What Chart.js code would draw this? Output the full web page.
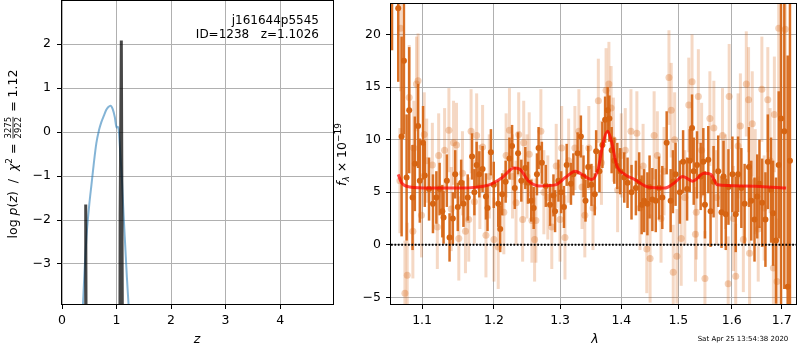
<!DOCTYPE html>
<html>
<head>
<meta charset="utf-8">
<script src="https://cdn.jsdelivr.net/npm/chart.js@4.4.0/dist/chart.umd.min.js"></script>
<style>
  html, body { margin: 0; padding: 0; background: #fff; }
  #wrap { position: relative; width: 800px; height: 350px; }
  canvas { position: absolute; left: 0; top: 0; }
</style>
</head>
<body>
<div id="wrap">
  <canvas id="pzChart" width="800" height="350"></canvas>
  <canvas id="specChart" width="800" height="350"></canvas>
</div>
<script>
// ---- left panel: log p(z) ----
const zTicks = [0, 1, 2, 3, 4];
const logpTicks = [-3, -2, -1, 0, 1, 2];
const curveZ = [0.385, 0.42, 0.46, 0.50, 0.54, 0.58, 0.63, 0.68, 0.72, 0.77, 0.81, 0.85, 0.89, 0.93, 0.97, 1.00, 1.02, 1.04, 1.07, 1.10, 1.13, 1.16, 1.19, 1.22];
const curveLogp = [-3.91, -3.0, -2.2, -1.65, -1.2, -0.75, -0.25, 0.05, 0.22, 0.38, 0.5, 0.57, 0.6, 0.52, 0.33, 0.1, 0.12, 0.05, -0.5, -1.1, -1.9, -2.6, -3.3, -3.91];
const spikeZ = [0.425, 0.435, 0.445, 1.060, 1.066, 1.088, 1.100, 1.112];
const spikeLogp = [-6, -1.65, -6, -6, -1.9, 2.08, 2.08, -6];

// ---- right panel: spectrum ----
const waveTicks = [1.1, 1.2, 1.3, 1.4, 1.5, 1.6, 1.7];
const fluxTicks = [-5, 0, 5, 10, 15, 20];

const darkWave = [
  1.0607, 1.0687, 1.0731, 1.0761, 1.0796, 1.0830, 1.0874, 1.0904, 1.0947, 1.0970,
  1.1013, 1.1036, 1.1093, 1.1146, 1.1192, 1.1236, 1.1273, 1.1290, 1.1335, 1.1372,
  1.1417, 1.1450, 1.1486, 1.1533, 1.1565, 1.1625, 1.1686, 1.1719, 1.1751, 1.1789,
  1.1836, 1.1884, 1.1907, 1.1956, 1.1997, 1.2062, 1.2091, 1.2120, 1.2171, 1.2227,
  1.2266, 1.2306, 1.2355, 1.2404, 1.2464, 1.2505, 1.2554, 1.2591, 1.2641, 1.2666,
  1.2716, 1.2777, 1.2843, 1.2896, 1.2921, 1.2974, 1.3017, 1.3061, 1.3104, 1.3172,
  1.3210, 1.3278, 1.3331, 1.3374, 1.3406, 1.3450, 1.3503, 1.3557, 1.3580, 1.3634,
  1.3683, 1.3728, 1.3770, 1.3799, 1.3837, 1.3882, 1.3932, 1.3982, 1.4050, 1.4106,
  1.4174, 1.4249, 1.4306, 1.4349, 1.4392, 1.4449, 1.4487, 1.4536, 1.4596, 1.4654,
  1.4712, 1.4790, 1.4861, 1.4902, 1.4950, 1.5028, 1.5087, 1.5160, 1.5209, 1.5251,
  1.5282, 1.5343, 1.5411, 1.5461, 1.5491, 1.5554, 1.5597, 1.5654, 1.5742, 1.5805,
  1.5843, 1.5887, 1.5938, 1.6015, 1.6079, 1.6125, 1.6189, 1.6253, 1.6339, 1.6384,
  1.6449, 1.6503, 1.6548, 1.6602, 1.6668, 1.6716, 1.6782, 1.6823, 1.6883, 1.6938,
  1.6985, 1.7053, 1.7123, 1.7170
];
const darkFlux = [
  23.5, 22.5, 10.3, 17.5, 6.4, 12.8, 4.5, 7.7, 11.3, 6.1,
  9.7, 6.6, 5.3, 3.9, 4.5, 5.3, 3.2, 2.6, 6.1, 0.7,
  2.5, 6.7, 3.6, 5.9, 3.9, 4.5, 8.4, 5.0, 7.6, 6.7,
  7.2, 4.6, 3.5, 8.8, 5.7, 3.9, 1.5, 4.8, 6.0, 8.2,
  9.4, 5.4, 8.7, 6.1, 7.3, 5.9, 4.2, 3.5, 6.7, 9.2,
  7.8, 5.6, 3.8, 4.7, 3.2, 6.1, 5.0, 3.6, 7.6, 5.8,
  6.7, 8.7, 10.3, 6.5, 4.2, 7.4, 5.7, 4.8, 8.9, 7.0,
  9.5, 11.9, 12.8, 12.0, 9.0, 8.0, 7.5, 7.0, 6.4, 5.9,
  5.0, 5.4, 6.0, 3.8, 4.2, 3.9, 5.5, 4.3, 4.2, 5.4,
  4.5, 9.7, 4.2, 6.0, 6.7, 5.0, 7.9, 5.3, 8.0, 11.1,
  7.0, 7.6, 6.5, 7.9, 3.8, 8.1, 3.2, 6.0, 7.0, 3.1,
  6.5, 2.9, 5.5, 6.7, 2.9, 6.7, 5.4, 3.9, 7.4, 4.2,
  2.4, 4.6, 5.8, 4.0, 2.4, 7.9, 5.2, 3.0, 0.4, 7.6,
  12.0, 10.8, -4.0, 8.0
];
const darkErr = [
  5, 7, 9.5, 7, 6, 6, 5, 4.5, 4, 4,
  3.5, 3, 3, 2.8, 2.5, 2.5, 2.5, 2.5, 2.5, 2.3,
  2.5, 2.3, 2.3, 2.2, 2.2, 2.2, 2.2, 2.2, 2.2, 2.2,
  2.2, 2.2, 2.2, 2.2, 2.2, 2.2, 2.2, 2.0, 2.0, 2.0,
  2.0, 2.0, 2.0, 2.0, 2.0, 2.0, 2.0, 2.0, 2.0, 2.0,
  2.0, 2.0, 2.0, 2.0, 2.0, 2.0, 2.0, 2.0, 2.0, 2.0,
  2.0, 2.0, 2.0, 2.0, 2.0, 2.0, 2.0, 2.0, 2.0, 2.0,
  2.2, 2.2, 2.2, 2.2, 2.2, 2.2, 2.2, 2.2, 2.4, 2.4,
  2.6, 2.6, 2.8, 2.8, 3.0, 3.0, 3.0, 3.0, 3.0, 3.0,
  3.0, 3.0, 3.0, 3.0, 3.0, 3.0, 3.0, 3.0, 3.0, 3.2,
  3.2, 3.2, 3.2, 3.2, 3.2, 3.2, 3.4, 3.4, 3.4, 3.4,
  3.4, 3.4, 3.6, 3.6, 3.6, 3.6, 3.8, 3.8, 3.8, 3.8,
  4.0, 4.0, 4.2, 4.2, 4.5, 4.5, 5.0, 5.0, 6.0, 7.0,
  18, 15, 22, 25
];

const lightWave = [
  1.0709, 1.0718, 1.0774, 1.0804, 1.0830, 1.0878, 1.0891, 1.0926, 1.0947, 1.0992,
  1.1029, 1.1062, 1.1138, 1.1205, 1.1223, 1.1304, 1.1363, 1.1395, 1.1427, 1.1468,
  1.1500, 1.1551, 1.1593, 1.1639, 1.1672, 1.1719, 1.1751, 1.1797, 1.1836, 1.1884,
  1.1932, 1.2000, 1.2062, 1.2144, 1.2178, 1.2227, 1.2273, 1.2325, 1.2365, 1.2424,
  1.2440, 1.2489, 1.2523, 1.2564, 1.2605, 1.2625, 1.2701, 1.2747, 1.2808, 1.2870,
  1.2939, 1.2999, 1.3025, 1.3077, 1.3135, 1.3235, 1.3299, 1.3350, 1.3395, 1.3460,
  1.3528, 1.3616, 1.3667, 1.3744, 1.3791, 1.3828, 1.3866, 1.3937, 1.3999, 1.4067,
  1.4164, 1.4266, 1.4320, 1.4374, 1.4438, 1.4496, 1.4567, 1.4624, 1.4689, 1.4742,
  1.4831, 1.4872, 1.4908, 1.4933, 1.4974, 1.5052, 1.5118, 1.5191, 1.5251, 1.5314,
  1.5330, 1.5368, 1.5429, 1.5491, 1.5584, 1.5659, 1.5710, 1.5824, 1.5881, 1.5933,
  1.5952, 1.6035, 1.6079, 1.6125, 1.6170, 1.6228, 1.6286, 1.6331, 1.6351, 1.6404,
  1.6463, 1.6523, 1.6596, 1.6642, 1.6716, 1.6762, 1.6829, 1.6849, 1.6904, 1.6938,
  1.7073
];
const lightFlux = [
  6.1, 20.6, -4.6, -2.9, 14.0, 1.3, 9.2, 15.3, 15.6, 2.8,
  10.5, 8.0, 7.6, 1.7, 8.5, 9.0, 10.9, 3.4, 9.7, 9.5,
  0.6, 6.8, 1.3, 2.4, 10.8, 4.1, 10.4, 5.5, 9.3, 0.9,
  6.5, 0.5, -0.2, 3.1, 8.5, 10.9, 6.5, 4.0, 10.5, 2.4,
  9.7, 6.5, 8.6, 2.3, 0.5, 2.3, 10.8, 5.0, 4.5, 1.7,
  7.5, 2.4, 9.2, 0.7, 8.0, 9.2, 10.8, 5.5, 2.8, 9.2,
  3.5, 13.7, 7.8, 14.7, 15.3, 13.0, 10.0, 5.2, 8.5, 9.0,
  10.8, 10.6, 3.5, 7.5, -0.4, -1.3, 10.4, 8.5, 2.5, 7.0,
  15.9, 12.8, -2.6, 10.0, -1.1, 0.6, 4.5, 13.3, 15.5, 1.0,
  3.1, 14.1, 9.0, -3.2, 12.0, 11.1, 4.5, 10.4, 6.0, -3.7,
  14.1, 2.5, -3.0, 9.4, 11.3, 0.5, 15.3, 13.8, -0.8, 11.5,
  6.0, 1.5, 14.8, 3.5, 13.8, 8.0, -2.2, 12.4, -3.5, 20.6,
  20.5
];
const lightErr = [
  5, 6, 5, 5, 5, 4.5, 4.5, 4.5, 4.5, 4,
  4, 4, 4, 4, 4, 4, 4, 4, 4, 4,
  4, 4, 4, 4, 4, 4, 4, 4, 4, 4,
  4, 4, 4, 4, 4, 4, 4, 4, 4, 4,
  4, 4, 4, 4, 4, 4, 4, 4, 4, 4,
  4, 4, 4, 4, 4, 4, 4, 4, 4, 4,
  4, 4, 4, 4, 4, 4, 4, 4, 4, 4,
  4, 4, 4, 4, 4.2, 4.2, 4.2, 4.2, 4.2, 4.2,
  4.5, 4.5, 4.5, 4.5, 4.5, 4.5, 4.5, 4.5, 4.5, 4.5,
  4.5, 4.5, 4.5, 4.5, 4.5, 4.5, 4.5, 4.5, 4.5, 4.5,
  5, 5, 5, 5, 5, 5, 5, 5, 5, 5,
  5, 5, 5, 5, 5, 5, 5.5, 5.5, 6, 8,
  10
];

const modelWave = [1.0687, 1.0731, 1.0838, 1.1100, 1.1500, 1.1930, 1.2122, 1.2293, 1.2378, 1.2517,
  1.2668, 1.2926, 1.3083, 1.3240, 1.3346, 1.3507, 1.3616, 1.3698, 1.3770, 1.3836,
  1.3919, 1.4060, 1.4230, 1.4459, 1.4753, 1.4930, 1.5080, 1.5262, 1.5478, 1.5602,
  1.5727, 1.6238, 1.7091];
const modelFlux = [6.7, 5.9, 5.5, 5.4, 5.4, 5.7, 6.4, 7.3, 7.2, 6.05,
  5.6, 5.7, 6.4, 7.0, 6.7, 6.2, 7.3, 9.8, 10.8, 9.8,
  7.6, 6.7, 6.2, 5.5, 5.4, 5.9, 6.5, 6.05, 6.8, 6.7,
  5.7, 5.6, 5.4];

const FONT = "'DejaVu Sans', sans-serif";
Chart.defaults.font.family = FONT;
Chart.defaults.font.size = 12.5;
Chart.defaults.color = '#000';

const ORANGE = 'rgb(214,100,18)';
const ORANGE_LIGHT = 'rgba(214,100,18,0.25)';

const pts = (xs, ys) => xs.map((x, i) => ({ x: x, y: ys[i] }));
const minus = v => (v < 0 ? '\u2212' + Math.abs(v) : String(v));

// force the axis boxes so the plot areas land where the reference has them
function fixBox(size) {
  return function (scale) {
    scale.paddingTop = 0; scale.paddingBottom = 0;
    scale.paddingLeft = 0; scale.paddingRight = 0;
    if (scale.isHorizontal()) scale.height = size; else scale.width = size;
  };
}
const setTicks = list => scale => { scale.ticks = list.map(v => ({ value: v })); };

const gridOpts = { color: '#b0b0b0', lineWidth: 1, tickLength: 5, tickColor: '#000', tickWidth: 1 };

const frame = {
  id: 'frame',
  afterDraw(chart) {
    const { ctx, chartArea: a } = chart;
    ctx.save();
    ctx.strokeStyle = '#000';
    ctx.lineWidth = 1;
    ctx.strokeRect(Math.round(a.left) - 0.5, Math.round(a.top) - 0.5,
      Math.round(a.right - a.left) + 1, Math.round(a.bottom - a.top) + 1);
    ctx.restore();
  }
};

// draws a rotated label made of pieces (italic, sub/superscript, fraction)
function drawRich(ctx, segs, cx, cy) {
  ctx.save();
  ctx.translate(cx, cy);
  ctx.rotate(-Math.PI / 2);
  ctx.fillStyle = '#000';
  ctx.textBaseline = 'alphabetic';
  const fontOf = s => (s.italic ? 'italic ' : '') + s.size + 'px ' + FONT;
  const widths = segs.map(s => {
    ctx.font = fontOf(s);
    if (s.num) return Math.max(ctx.measureText(s.num).width, ctx.measureText(s.den).width) + 2;
    return ctx.measureText(s.t).width;
  });
  let x = -widths.reduce((a, b) => a + b, 0) / 2;
  segs.forEach((s, i) => {
    ctx.font = fontOf(s);
    if (s.num) {
      const w = widths[i], axis = -4;
      ctx.textAlign = 'center';
      ctx.fillText(s.num, x + w / 2, axis - 2);
      ctx.fillText(s.den, x + w / 2, axis + 2 + s.size * 0.73);
      ctx.fillRect(x + 1, axis - 0.4, w - 2, 0.8);
    } else {
      ctx.textAlign = 'left';
      ctx.fillText(s.t, x, s.dy || 0);
    }
    x += widths[i];
  });
  ctx.restore();
}

const pzText = {
  id: 'pzText',
  afterDraw(chart) {
    const ctx = chart.ctx;
    ctx.save();
    ctx.fillStyle = '#000';
    ctx.font = '12px ' + FONT;
    ctx.textAlign = 'right';
    ctx.textBaseline = 'alphabetic';
    ctx.fillText('j161644p5545', 319, 23.5);
    ctx.fillText('ID=1238   z=1.1026', 319, 38);
    ctx.font = 'italic 12.5px ' + FONT;
    ctx.textAlign = 'center';
    ctx.textBaseline = 'middle';
    ctx.fillText('z', 197, 340);
    ctx.restore();
    drawRich(ctx, [
      { t: 'log ', size: 12.5 }, { t: 'p', size: 12.5, italic: true }, { t: '(', size: 12.5 },
      { t: 'z', size: 12.5, italic: true }, { t: ')  /  ', size: 12.5 },
      { t: '\u03c7', size: 12.5, italic: true }, { t: '2', size: 9, dy: -5 },
      { t: ' = ', size: 12.5 }, { num: '3275', den: '2922', size: 8.5 }, { t: ' = 1.12', size: 12.5 }
    ], 17, 154);
  }
};

new Chart(document.getElementById('pzChart'), {
  type: 'scatter',
  data: {
    datasets: [
      { data: pts(curveZ, curveLogp), showLine: true, borderColor: 'rgba(31,119,180,0.55)',
        borderWidth: 2, pointRadius: 0, cubicInterpolationMode: 'monotone', clip: 0, order: 2 },
      { data: pts(spikeZ, spikeLogp), showLine: true, borderColor: 'rgba(0,0,0,0.72)',
        borderWidth: 3, pointRadius: 0, clip: 0, order: 1 }
    ]
  },
  options: {
    responsive: false, animation: false, devicePixelRatio: 1,
    layout: { padding: { left: 0, top: 1, right: 467, bottom: 0 } },
    plugins: { legend: { display: false }, tooltip: { enabled: false } },
    scales: {
      x: { type: 'linear', min: 0, max: 4.97, bounds: 'data',
        afterBuildTicks: setTicks(zTicks), afterFit: fixBox(46),
        ticks: { padding: 4, autoSkip: false, maxRotation: 0, callback: v => minus(v) },
        grid: gridOpts, border: { display: false } },
      y: { type: 'linear', min: -3.91, max: 2.98, bounds: 'data',
        afterBuildTicks: setTicks(logpTicks), afterFit: fixBox(62),
        ticks: { padding: 6, autoSkip: false, callback: v => minus(v) },
        grid: gridOpts, border: { display: false } }
    }
  },
  plugins: [frame, pzText]
});

// error bars drawn just before their points, through the chart scales
const errorBars = {
  id: 'errorBars',
  beforeDatasetDraw(chart, args) {
    const ds = chart.data.datasets[args.index];
    if (!ds.errWave) return;
    const { ctx, chartArea: a, scales: { x, y } } = chart;
    ctx.save();
    ctx.beginPath();
    ctx.rect(a.left, a.top, a.right - a.left, a.bottom - a.top);
    ctx.clip();
    ctx.strokeStyle = ds.barColor;
    ctx.lineWidth = ds.barWidth;
    ds.errWave.forEach((w, i) => {
      const px = x.getPixelForValue(w);
      ctx.beginPath();
      ctx.moveTo(px, y.getPixelForValue(ds.errFlux[i] - ds.errSize[i]));
      ctx.lineTo(px, y.getPixelForValue(ds.errFlux[i] + ds.errSize[i]));
      ctx.stroke();
    });
    ctx.restore();
  }
};

const specText = {
  id: 'specText',
  afterDraw(chart) {
    const ctx = chart.ctx;
    ctx.save();
    ctx.fillStyle = '#000';
    ctx.font = 'italic 12.5px ' + FONT;
    ctx.textAlign = 'center';
    ctx.textBaseline = 'middle';
    ctx.fillText('\u03bb', 595, 340);
    ctx.font = '7px ' + FONT;
    ctx.fillText('Sat Apr 25 13:54:38 2020', 743, 339.5);
    ctx.restore();
    drawRich(ctx, [
      { t: 'f', size: 12.5, italic: true }, { t: '\u03bb', size: 9, italic: true, dy: 3 },
      { t: ' \u00d7 10', size: 12.5 }, { t: '\u221219', size: 9, dy: -5 }
    ], 346, 154.5);
  }
};

new Chart(document.getElementById('specChart'), {
  type: 'scatter',
  data: {
    datasets: [
      { data: pts(lightWave, lightFlux), pointRadius: 3.5, pointBackgroundColor: 'rgba(214,100,18,0.3)',
        pointBorderWidth: 0, clip: 0, order: 5,
        errWave: lightWave, errFlux: lightFlux, errSize: lightErr, barColor: ORANGE_LIGHT, barWidth: 3 },
      { data: pts(darkWave, darkFlux), pointRadius: 3, pointBackgroundColor: ORANGE,
        pointBorderWidth: 0, clip: 0, order: 4,
        errWave: darkWave, errFlux: darkFlux, errSize: darkErr, barColor: 'rgba(214,100,18,0.92)', barWidth: 2.5 },
      { data: pts(modelWave, modelFlux), showLine: true, borderColor: 'rgba(255,0,0,0.7)',
        borderWidth: 3, pointRadius: 0, cubicInterpolationMode: 'monotone', clip: 0, order: 3 },
      { data: [{ x: 1.0594, y: 0 }, { x: 1.7296, y: 0 }], showLine: true, borderColor: '#000',
        borderWidth: 2, borderDash: [1.8, 1.6], pointRadius: 0, clip: 0, order: 1 }
    ]
  },
  options: {
    responsive: false, animation: false, devicePixelRatio: 1,
    layout: { padding: { left: 341, top: 1, right: 1, bottom: 0 } },
    plugins: { legend: { display: false }, tooltip: { enabled: false } },
    scales: {
      x: { type: 'logarithmic', min: 1.0594, max: 1.7296, bounds: 'data',
        afterBuildTicks: setTicks(waveTicks), afterFit: fixBox(46),
        ticks: { padding: 4, autoSkip: false, maxRotation: 0, callback: v => Number(v).toFixed(1) },
        grid: gridOpts, border: { display: false } },
      y: { type: 'linear', min: -5.63, max: 22.9, bounds: 'data',
        afterBuildTicks: setTicks(fluxTicks), afterFit: fixBox(50),
        ticks: { padding: 5, autoSkip: false, callback: v => minus(v) },
        grid: gridOpts, border: { display: false } }
    }
  },
  plugins: [frame, errorBars, specText]
});
</script>
</body>
</html>
